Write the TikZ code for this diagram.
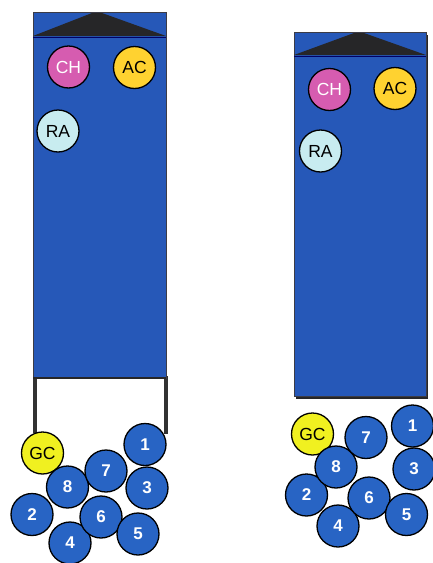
\documentclass[tikz,border=0pt]{standalone}
\usepackage{fontspec}
\setmainfont{Liberation Sans}
\begin{document}
\begin{tikzpicture}[x=1pt,y=-1pt,
  box/.style={fill=boxblue,draw=edgegray,line width=1pt},
  roof/.style={fill=roofdark,draw=none},
  ball/.style={circle,draw=black,line width=1.3pt,minimum size=42pt,inner sep=0pt,font=\fontsize{17.5}{17.5}\selectfont},
  num/.style={ball,fill=ballblue,text=white,font=\fontsize{17}{17}\selectfont\bfseries},
  ch/.style={ball,fill=chpink,text=white},
  ac/.style={ball,fill=acyellow,text=black},
  ra/.style={ball,fill=racyan,text=black},
  gc/.style={ball,fill=gcyellow,text=black},
  post/.style={draw=postgray,line width=4pt}]
\definecolor{boxblue}{RGB}{38,88,184}
\definecolor{edgegray}{RGB}{60,60,70}
\definecolor{roofdark}{RGB}{38,38,40}
\definecolor{ballblue}{RGB}{40,100,196}
\definecolor{chpink}{RGB}{214,92,176}
\definecolor{acyellow}{RGB}{255,210,48}
\definecolor{racyan}{RGB}{200,236,240}
\definecolor{gcyellow}{RGB}{240,240,32}
\definecolor{postgray}{RGB}{50,50,50}
\useasboundingbox (0,0) rectangle (432,563);
% ---------- left ----------
\draw[post] (35,376) -- (35,433);
\draw[post] (165.5,376) -- (165.5,434);
\draw[box] (33,12.5) rectangle (166,378);
\draw[line width=2pt,draw=roofdark] (33,378) -- (166,378);
\fill[roof] (33,36) -- (92,13) -- (102,13) -- (166,36) -- cycle;
\draw[line width=0.8pt,draw=black!60!blue] (33,37) -- (166,37);
\node[ch] (lch) at (68.5,67) {CH};
\node[ac] (lac) at (134.5,67.5) {AC};
\node[ra] (lra) at (58,131) {RA};
\node[gc] (lgc) at (42.5,453) {GC};
\node[num] (l4) at (70,543) {4};
\node[num] (l2) at (32,514.5) {2};
\node[num] (l8) at (67.5,487) {8};
\node[num] (l6) at (101,517) {6};
\node[num] (l5) at (138,534) {5};
\node[num] (l7) at (106,471) {7};
\node[num] (l3) at (147,488) {3};
\node[num] (l1) at (145,444.5) {1};
% ---------- right ----------
\fill[roofdark] (296,35) rectangle (428,399);
\draw[box] (294,32.5) rectangle (426,396);
\fill[roof] (294,55) -- (354,33) -- (364,33) -- (426,55) -- cycle;
\draw[line width=0.8pt,draw=black!60!blue] (294,56) -- (426,56);
\node[ch] (rch) at (329.5,89.5) {CH};
\node[ac] (rac) at (395,88.5) {AC};
\node[ra] (rra) at (320.5,151) {RA};
\node[gc] (rgc) at (312.5,434) {GC};
\node[num] (r4) at (338,526) {4};
\node[num] (r2) at (306.5,495) {2};
\node[num] (r8) at (336,467) {8};
\node[num] (r6) at (369,498) {6};
\node[num] (r5) at (406.5,514.5) {5};
\node[num] (r7) at (366,437.5) {7};
\node[num] (r3) at (414,469) {3};
\node[num] (r1) at (412.5,426) {1};
\end{tikzpicture}
\end{document}
